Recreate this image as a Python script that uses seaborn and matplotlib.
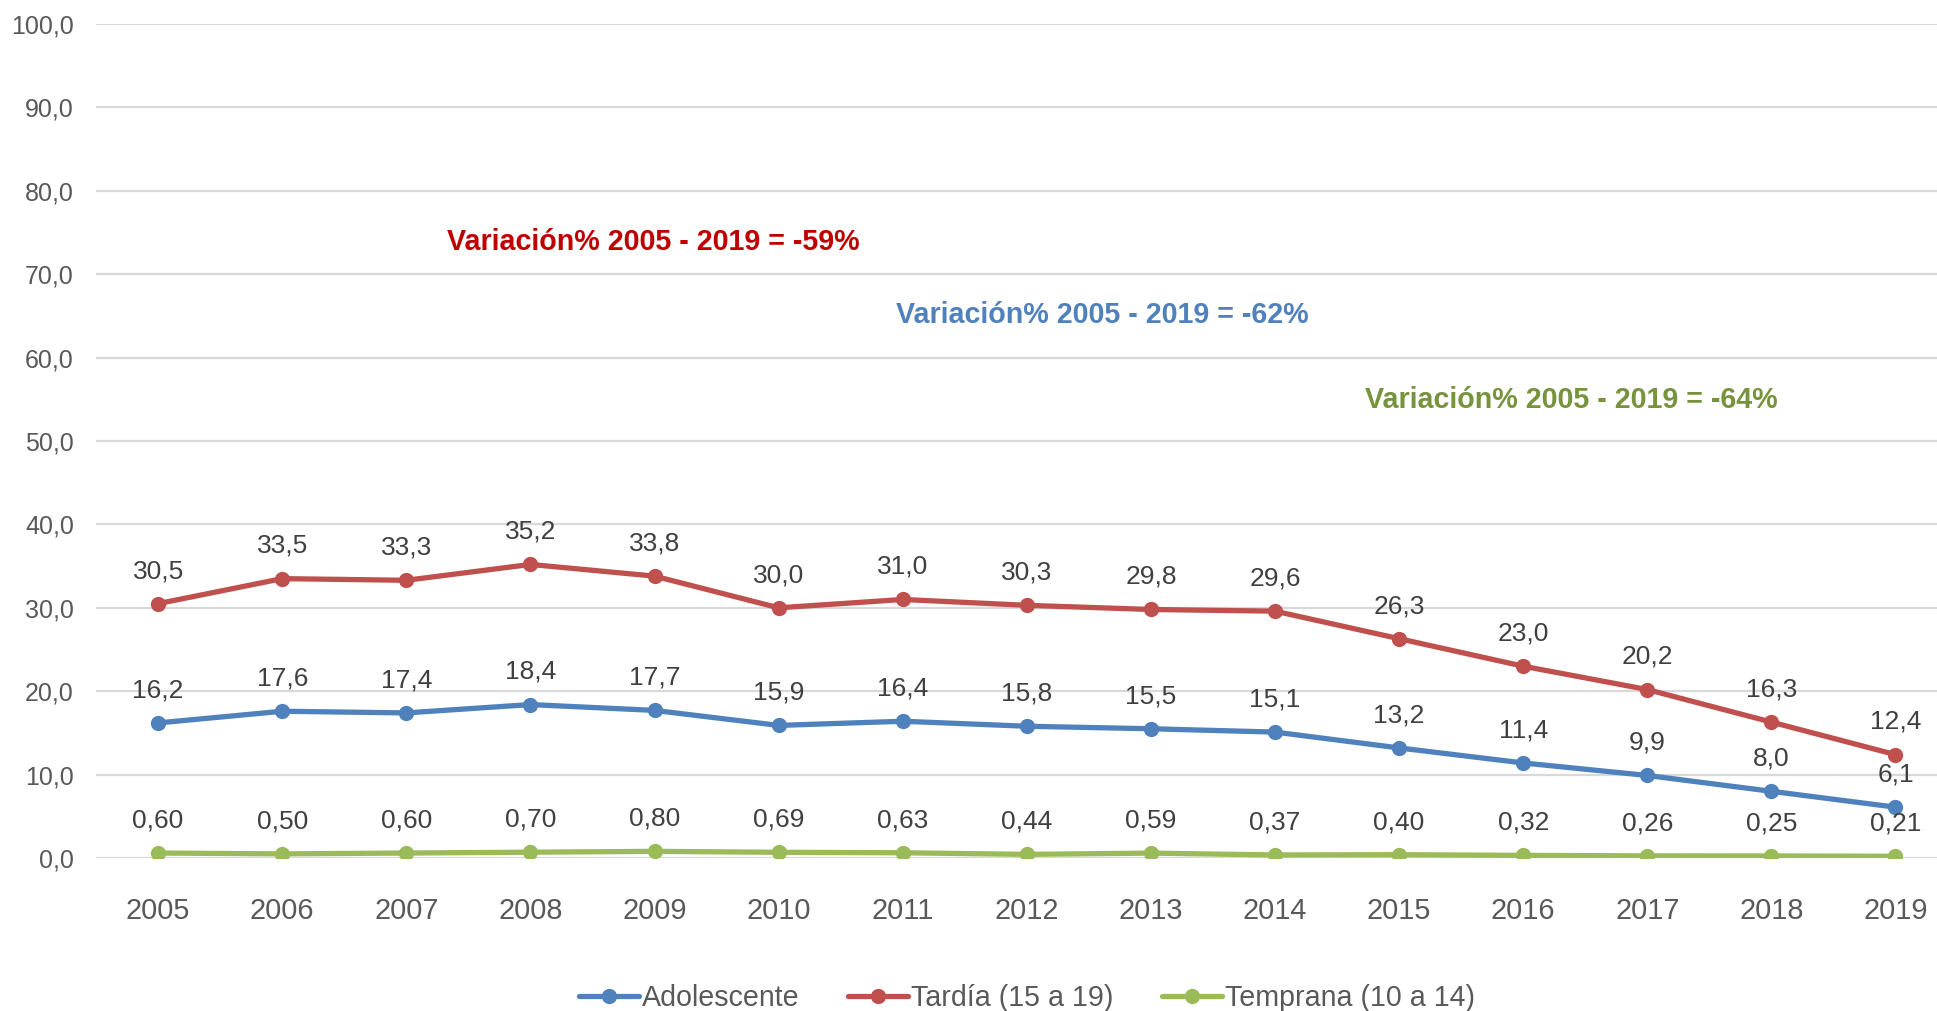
import pandas as pd
import numpy as np
import matplotlib
matplotlib.use('Agg')
import matplotlib.pyplot as plt
from matplotlib.ticker import FuncFormatter
import seaborn as sns

# Data
years = ['2005', '2006', '2007', '2008', '2009', '2010', '2011', '2012',
         '2013', '2014', '2015', '2016', '2017', '2018', '2019']
adolescente = [16.2, 17.6, 17.4, 18.4, 17.7, 15.9, 16.4, 15.8, 15.5, 15.1, 13.2, 11.4, 9.9, 8.0, 6.1]
tardia = [30.5, 33.5, 33.3, 35.2, 33.8, 30.0, 31.0, 30.3, 29.8, 29.6, 26.3, 23.0, 20.2, 16.3, 12.4]
temprana = [0.60, 0.50, 0.60, 0.70, 0.80, 0.69, 0.63, 0.44, 0.59, 0.37, 0.40, 0.32, 0.26, 0.25, 0.21]

series_names = ['Adolescente', 'Tardía (15 a 19)', 'Temprana (10 a 14)']
series_colors = ['#4F81BD', '#C0504D', '#9BBB59']
label_decimals = [1, 1, 2]

notes = ['Variación% 2005 - 2019 = -59%',
         'Variación% 2005 - 2019 = -62%',
         'Variación% 2005 - 2019 = -64%']
note_colors = ['#C00000', '#4F81BD', '#77933C']
note_pos = [(3.99, 73.8), (7.61, 65.1), (11.39, 54.9)]

sns.set_style('white')
plt.rcParams['font.family'] = ['Liberation Sans', 'DejaVu Sans']

rows = []
for name, vals in zip(series_names, [adolescente, tardia, temprana]):
    for i, v in enumerate(vals):
        rows.append({'pos': i, 'valor': v, 'serie': name})
df = pd.DataFrame(rows)

fig = plt.figure(figsize=(19.37, 10.11), dpi=100)
ax = fig.add_axes([0.0496, 0.1513, 0.961, 0.825])

sns.lineplot(data=df, x='pos', y='valor', hue='serie', hue_order=series_names,
             palette=series_colors, marker='o', markersize=11, markeredgewidth=0,
             linewidth=3.8, ax=ax, zorder=3)

# data labels
for name, vals, dec in zip(series_names, [adolescente, tardia, temprana], label_decimals):
    for i, v in enumerate(vals):
        txt = f'{v:.{dec}f}'.replace('.', ',')
        ax.annotate(txt, (i, v), xytext=(0, 23.5), textcoords='offset points',
                    ha='center', va='center', fontsize=19, color='#404040')

for txt, col, (x, y) in zip(notes, note_colors, note_pos):
    ax.text(x, y, txt, ha='center', va='center', fontsize=20.6,
            fontweight='bold', color=col)

ax.set_xlim(-0.5, len(years) - 0.5)
ax.set_ylim(0, 100)
ax.set_xticks(range(len(years)))
ax.set_xticklabels(years)
ax.set_yticks(np.arange(0, 101, 10))
ax.yaxis.set_major_formatter(FuncFormatter(lambda v, p: f'{v:.1f}'.replace('.', ',')))
ax.tick_params(axis='x', length=0, pad=28, labelsize=20.8, labelcolor='#595959')
ax.tick_params(axis='y', length=0, pad=16, labelsize=18, labelcolor='#595959')
ax.grid(axis='y', color='#D9D9D9', linewidth=1.6)
ax.set_axisbelow(True)
for s in ax.spines.values():
    s.set_visible(False)
ax.set_xlabel('')
ax.set_ylabel('')

leg = ax.legend(loc='center', bbox_to_anchor=(0.5, -0.168), ncol=3, frameon=False,
                fontsize=20.6, handlelength=2.1, handletextpad=0.1, columnspacing=1.7)
for t in leg.get_texts():
    t.set_color('#595959')

fig.savefig('out.png', dpi=100)
